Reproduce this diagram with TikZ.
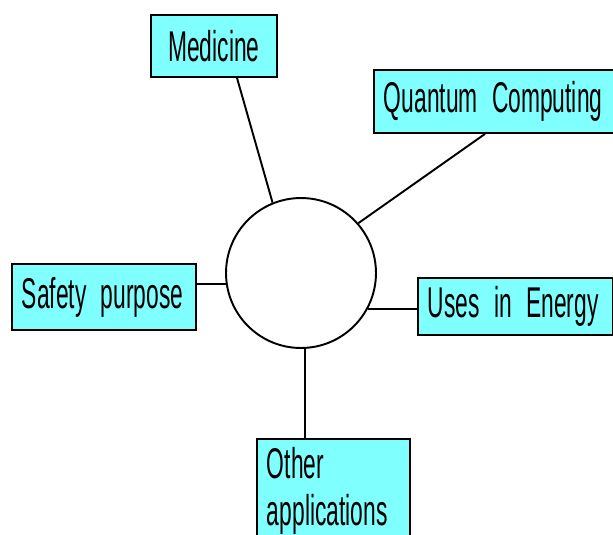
\documentclass[tikz,border=0pt]{standalone}
\usepackage{fontspec}
\usepackage{tikz}
\usetikzlibrary{positioning,calc}
\newfontfamily\narrowfont[FakeStretch=0.53]{Liberation Sans}
\definecolor{boxcyan}{RGB}{128,255,255}

\begin{document}
\begin{tikzpicture}[x=0.02cm, y=-0.02cm,
    every node/.style={font=\narrowfont\fontsize{24.5}{26.5}\selectfont},
    topic/.style={draw, line width=1.1pt, fill=boxcyan, anchor=north west, inner xsep=0.2cm, inner ysep=0pt, align=left},
    link/.style={line width=1.1pt}]
    \useasboundingbox[fill=white] (0,0) rectangle (613,535);
    % hub
    \node[draw, circle, line width=1.1pt, minimum size=3cm, inner sep=0pt] (hub) at (301,273) {};
    % boxes
    \node[topic, align=center, text width=2.12cm, minimum height=1.24cm] (med) at (150,14) {Medicine};
    \node[topic, text width=4.94cm, minimum height=1.26cm] (qc) at (373,69) {Quantum Computing};
    \node[topic, text width=3.28cm, minimum height=1.32cm] (sp) at (11,263) {\mbox{Safety purpose}};
    \node[topic, text width=3.5cm, minimum height=1.14cm] (ue) at (417,277) {\mbox{Uses in Energy}};
    \node[topic, text width=2.66cm, minimum height=2.08cm] (oa) at (256,438) {Other\\applications};
    % connectors
    \draw[link] ($(med.south west)+(87,0)$) -- (hub.112);
    \draw[link] ($(qc.south west)+(112,0)$) -- (hub.41);
    \draw[link] (hub.188) -- (hub.188 -| sp.east);
    \draw[link] (hub.332) -- (hub.332 -| ue.west);
    \draw[link] (hub.273) -- (hub.273 |- oa.north);
\end{tikzpicture}
\end{document}
